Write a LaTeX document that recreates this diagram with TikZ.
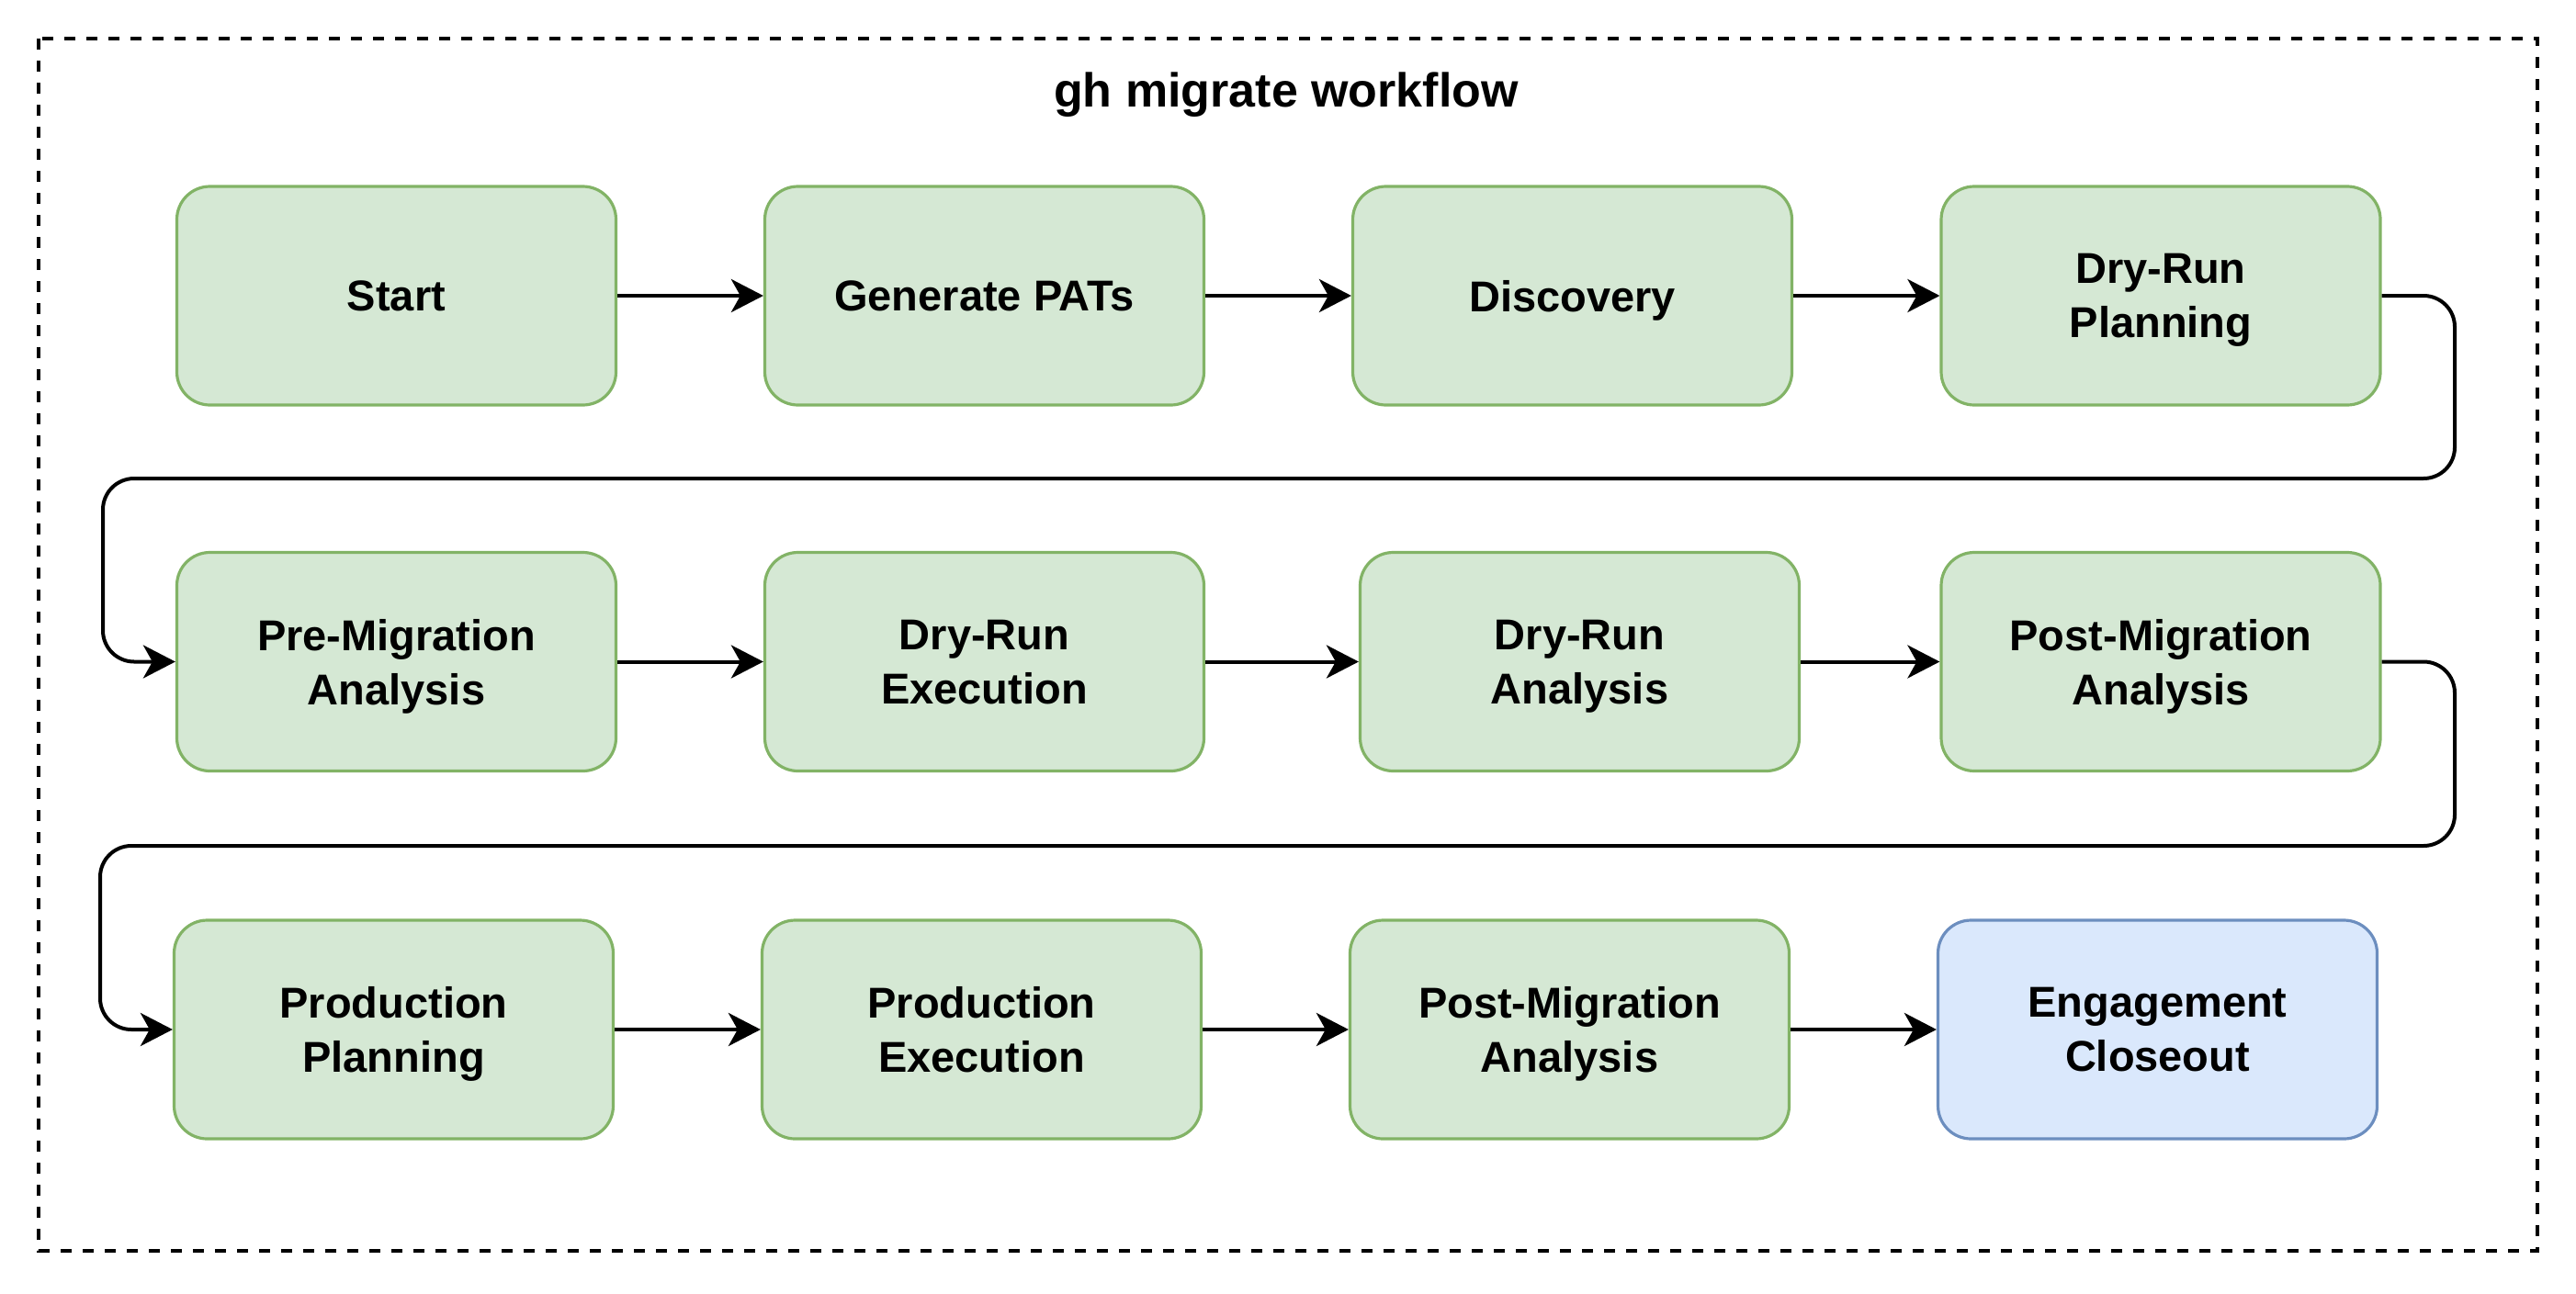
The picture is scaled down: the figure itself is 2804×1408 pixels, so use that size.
\documentclass[tikz,border=0pt]{standalone}
\usepackage{fontspec}
\setmainfont{Liberation Sans}
\usetikzlibrary{arrows.meta}
\definecolor{gfill}{HTML}{D5E8D4}
\definecolor{gline}{HTML}{82B366}
\definecolor{bfill}{HTML}{DAE8FC}
\definecolor{bline}{HTML}{6C8EBF}
\begin{document}
\begin{tikzpicture}[x=0.5pt,y=-0.5pt,
  stepbox/.style={draw=gline,fill=gfill,line width=1.6pt,rounded corners=18pt,
    minimum width=239pt,minimum height=119pt,align=center,inner sep=0pt,
    text depth=0pt,
    font=\fontsize{23.5pt}{29.5pt}\selectfont\bfseries},
  endbox/.style={stepbox,draw=bline,fill=bfill},
  flow/.style={line width=2pt,-{Stealth[length=17.5pt,width=18pt,inset=5pt]}},
  loopflow/.style={flow,rounded corners=17pt},
  frame/.style={line width=2pt,dash pattern=on 6pt off 6pt}
]
\useasboundingbox (0,0) rectangle (2804,1408);
\draw[frame] (42,42) rectangle (2762,1362);
\node[font=\fontsize{26pt}{31pt}\selectfont\bfseries,text depth=0pt] (title) at (1400,98) {gh migrate workflow};

% row 1
\node[stepbox] (n1) at (431.5,322) {Start};
\node[stepbox] (n2) at (1071.5,322) {Generate PATs};
\node[stepbox] (n3) at (1711.5,322) {Discovery};
\node[stepbox] (n4) at (2352,322) {Dry-Run\\Planning};
% row 2
\node[stepbox] (n5) at (431.5,720.5) {Pre-Migration\\Analysis};
\node[stepbox] (n6) at (1071.5,720.5) {Dry-Run\\Execution};
\node[stepbox] (n7) at (1719.5,720.5) {Dry-Run\\Analysis};
\node[stepbox] (n8) at (2352,720.5) {Post-Migration\\Analysis};
% row 3
\node[stepbox] (n9) at (428.5,1121) {Production\\Planning};
\node[stepbox] (n10) at (1068.5,1121) {Production\\Execution};
\node[stepbox] (n11) at (1708.5,1121) {Post-Migration\\Analysis};
\node[endbox] (n12) at (2348.5,1121) {Engagement\\Closeout};

\coordinate (r1) at (2672,521);
\coordinate (l1) at (112,521);
\coordinate (r2) at (2672,921);
\coordinate (l2) at (109,921);

\draw[flow] (n1) -- (n2);
\draw[flow] (n2) -- (n3);
\draw[flow] (n3) -- (n4);
\draw[loopflow] (n4.east) -| (r1) -- (l1) |- (n5.west);
\draw[flow] (n5) -- (n6);
\draw[flow] (n6) -- (n7);
\draw[flow] (n7) -- (n8);
\draw[loopflow] (n8.east) -| (r2) -- (l2) |- (n9.west);
\draw[flow] (n9) -- (n10);
\draw[flow] (n10) -- (n11);
\draw[flow] (n11) -- (n12);
\end{tikzpicture}
\end{document}
